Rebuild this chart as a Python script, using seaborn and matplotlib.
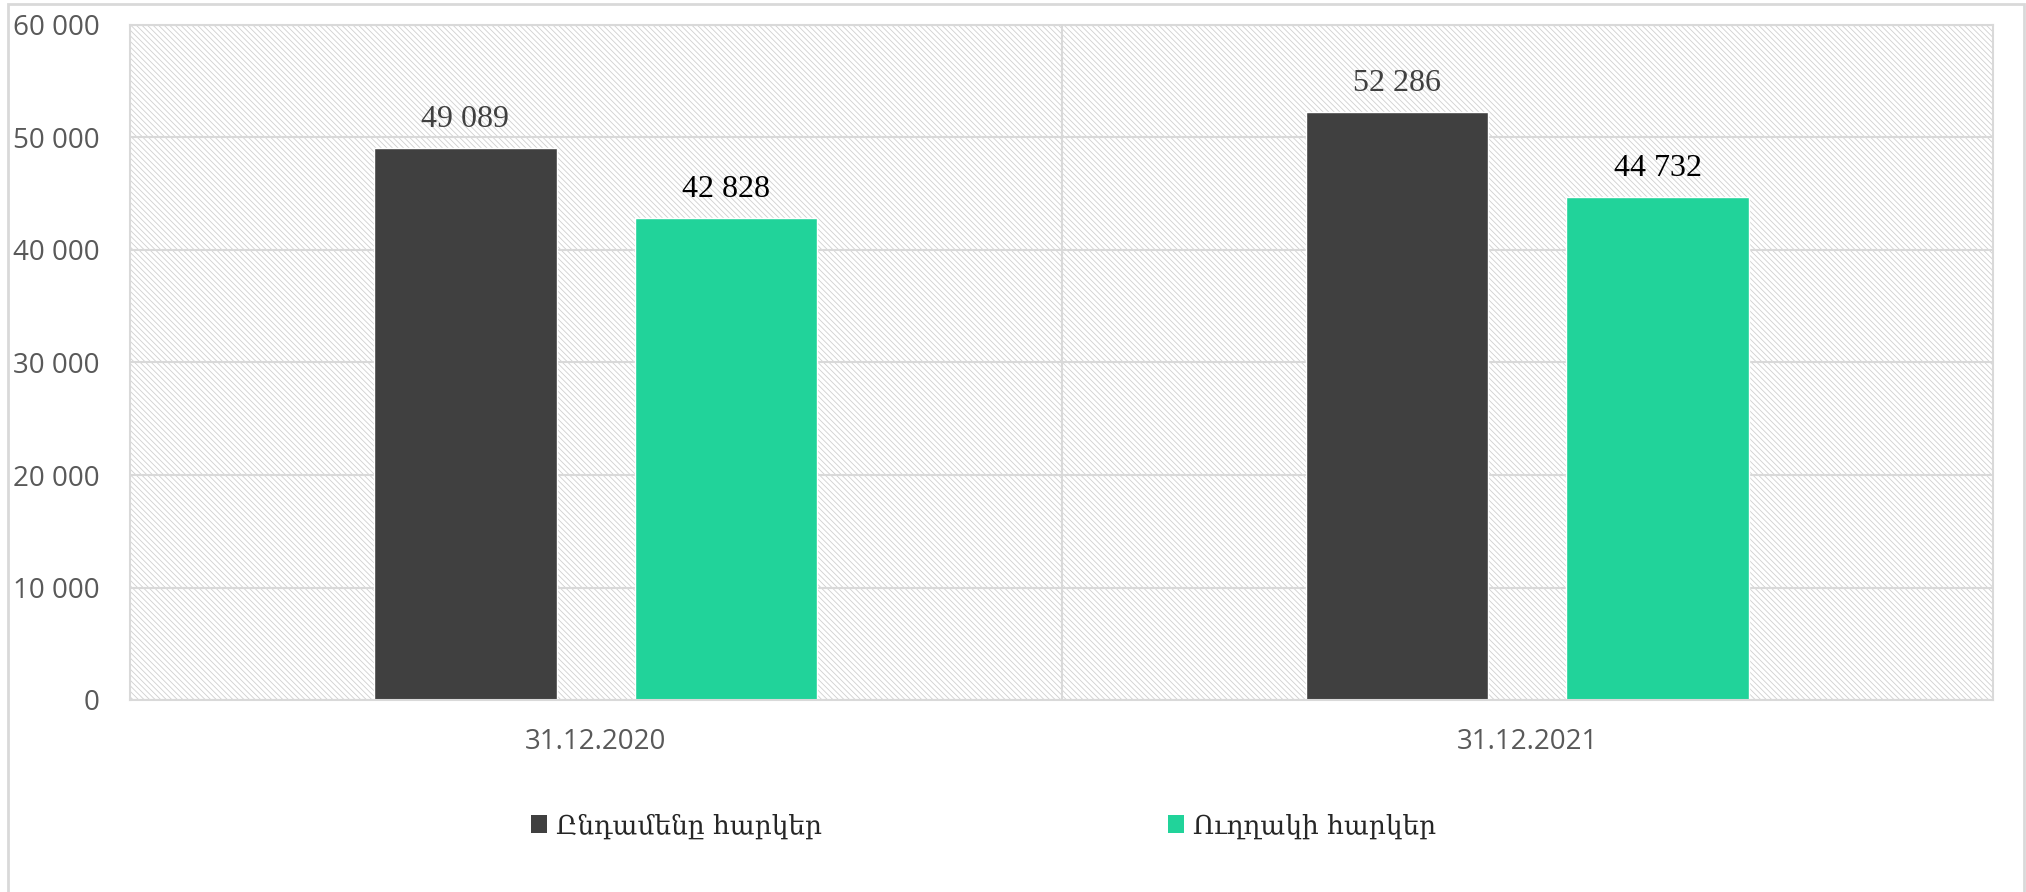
import pandas as pd
import matplotlib
matplotlib.use("Agg")
import matplotlib.pyplot as plt
from matplotlib.patches import Rectangle
from matplotlib.ticker import FuncFormatter
import seaborn as sns

# data
dates = ["31.12.2020", "31.12.2021"]
series_names = ["Ընդամենը հարկեր", "Ուղղակի հարկեր"]
total_taxes = [49089, 52286]
direct_taxes = [42828, 44732]
colors = ["#404040", "#21D39A"]
label_colors = ["#404040", "#000000"]

df = pd.DataFrame({
    "date": dates * 2,
    "value": total_taxes + direct_taxes,
    "series": [series_names[0]] * 2 + [series_names[1]] * 2,
})

sns.set_theme(style="white")
plt.rcParams["font.family"] = ["Open Sans", "DejaVu Sans"]
plt.rcParams["hatch.linewidth"] = 0.6

W, H = 2026, 892
fig = plt.figure(figsize=(W / 100, H / 100), dpi=100)
ax = fig.add_axes([130 / W, 1 - 700 / H, 1863 / W, 675 / H])

# hatched plot area
bg = Rectangle((0, 0), 1, 1, transform=ax.transAxes, facecolor="white",
               edgecolor="#d0d0d0", hatch="\\\\\\\\\\\\", lw=0, zorder=0)
ax.add_patch(bg)

sns.barplot(data=df, x="date", y="value", hue="series", palette=colors,
            saturation=1, width=0.56, gap=0.30, ax=ax, legend=False,
            zorder=2)

ax.set_ylim(0, 60000)
ax.set_xlim(-0.5, 1.5)
ax.set_yticks(range(0, 60001, 10000))
ax.yaxis.set_major_formatter(FuncFormatter(lambda v, p: f"{int(v):,}".replace(",", " ")))
ax.set_xlabel("")
ax.set_ylabel("")

ax.grid(axis="y", color="#d9d9d9", lw=1.5)
ax.set_axisbelow(True)
ax.axvline(0.5, color="#d9d9d9", lw=1.5, zorder=1)
for s in ax.spines.values():
    s.set_color("#d9d9d9")
    s.set_linewidth(1.5)

ax.tick_params(axis="y", length=0, pad=22, labelsize=20, labelcolor="#595959")
ax.tick_params(axis="x", length=0, pad=20, labelsize=20, labelcolor="#595959")

# value labels
for cont, lc in zip(ax.containers, label_colors):
    vals = [f"{int(b.get_height()):,}".replace(",", " ") for b in cont]
    ax.bar_label(cont, labels=vals, padding=10, fontsize=23, color=lc,
                 family=["Liberation Serif", "DejaVu Serif"])

# legend, two entries placed separately
leg_x = [531, 1168]
for name, c, lx in zip(series_names, colors, leg_x):
    h = Rectangle((0, 0), 1, 1, facecolor=c, edgecolor="none")
    fig.legend([h], [name], loc="center left", bbox_to_anchor=(lx / W, 1 - 826 / H),
               frameon=False, borderpad=0, borderaxespad=0, handlelength=0.6,
               handleheight=0.7, handletextpad=0.35,
               prop={"family": ["DejaVu Serif", "DejaVu Sans"], "size": 19})

# outer border
fig.add_artist(Rectangle((8 / W, -0.01), 2016 / W, 1 - 4 / H + 0.01,
                         transform=fig.transFigure, facecolor="none",
                         edgecolor="#d9d9d9", lw=2))

fig.savefig("out.png", dpi=100)
